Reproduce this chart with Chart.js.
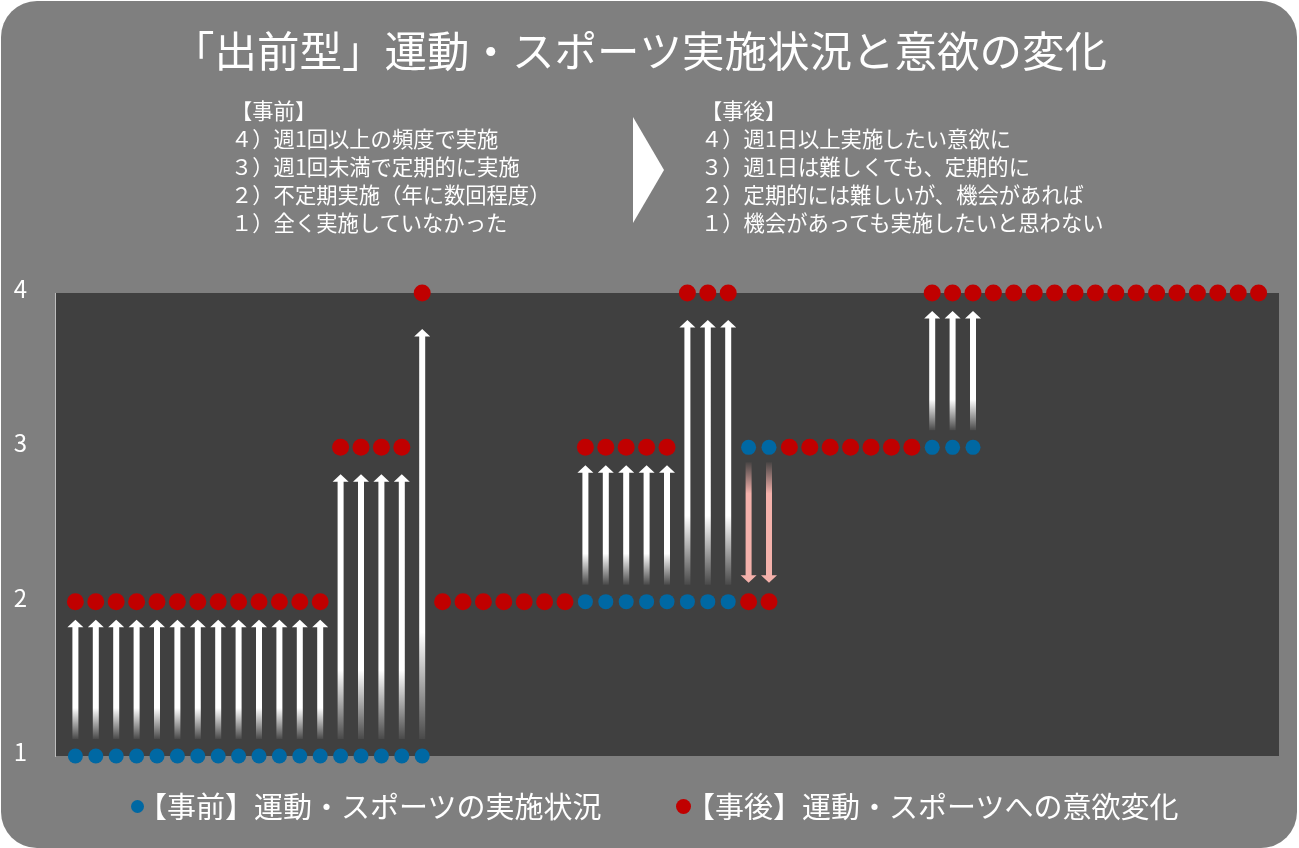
<!DOCTYPE html>
<html lang="ja">
<head>
<meta charset="utf-8">
<title>「出前型」運動・スポーツ実施状況と意欲の変化</title>
<script src="https://cdn.jsdelivr.net/npm/chart.js"></script>
<style>
  html, body { margin: 0; padding: 0; background: #fff; }
  #wrap { position: relative; width: 1299px; height: 848px; overflow: hidden;
          font-family: "Noto Sans CJK JP", "Noto Sans", sans-serif; color: #fff; }
  #bg { position: absolute; left: 1px; top: 1px; width: 1296px; height: 847px;
        background: #7f7f7f; border-radius: 36px; }
  #chart { position: absolute; left: 0; top: 0; }
  .notes { position: absolute; top: 96px; font-size: 21.3px; line-height: 28px; white-space: pre; }
  #pre { left: 231px; }
  #post { left: 701px; }
  #chevron { position: absolute; left: 633px; top: 117px; width: 31px; height: 106px;
             background: #fff; clip-path: polygon(0 0, 100% 50%, 0 100%); }
  #legend .dot { position: absolute; border-radius: 50%; }
  #legend .txt { position: absolute; font-size: 29px; line-height: 29px; top: 791px; white-space: pre; }
</style>
</head>
<body>
<div id="wrap">
  <div id="bg"></div>
  <canvas id="chart" width="1299" height="848"></canvas>
  <div class="notes" id="pre"></div>
  <div id="chevron"></div>
  <div class="notes" id="post"></div>
  <div id="legend"></div>
</div>
<script>
const FONT = '"Noto Sans CJK JP", "Noto Sans", sans-serif';

// participant numbers (x) and level before / after (1-4)
const participants = Array.from({ length: 59 }, (_, i) => i + 1);
const before = [
  1, 1, 1, 1, 1, 1, 1, 1, 1, 1, 1, 1, 1, 1, 1, 1, 1, 1,
  2, 2, 2, 2, 2, 2, 2,
  2, 2, 2, 2, 2, 2, 2, 2,
  3, 3,
  3, 3, 3, 3, 3, 3, 3,
  3, 3, 3,
  4, 4, 4, 4, 4, 4, 4, 4, 4, 4, 4, 4, 4, 4
];
const after = [
  2, 2, 2, 2, 2, 2, 2, 2, 2, 2, 2, 2, 2, 3, 3, 3, 3, 4,
  2, 2, 2, 2, 2, 2, 2,
  3, 3, 3, 3, 3, 4, 4, 4,
  2, 2,
  3, 3, 3, 3, 3, 3, 3,
  4, 4, 4,
  4, 4, 4, 4, 4, 4, 4, 4, 4, 4, 4, 4, 4, 4
];
const levels = [1, 2, 3, 4];
const seriesNames = ['【事前】運動・スポーツの実施状況', '【事後】運動・スポーツへの意欲変化'];
const titleText = '「出前型」運動・スポーツ実施状況と意欲の変化';
const preNotes = ['【事前】', '４）週1回以上の頻度で実施', '３）週1回未満で定期的に実施', '２）不定期実施（年に数回程度）', '１）全く実施していなかった'];
const postNotes = ['【事後】', '４）週1日以上実施したい意欲に', '３）週1日は難しくても、定期的に', '２）定期的には難しいが、機会があれば', '１）機会があっても実施したいと思わない'];

document.getElementById('pre').textContent = preNotes.join('\n');
document.getElementById('post').textContent = postNotes.join('\n');

Chart.defaults.font.family = FONT;

// dark plot area
const plotBg = {
  id: 'plotBg',
  beforeDraw(chart) {
    const { ctx, chartArea: a } = chart;
    ctx.save();
    ctx.fillStyle = '#404040';
    ctx.fillRect(a.left, a.top, a.right - a.left, a.bottom - a.top);
    ctx.restore();
  }
};

// arrows from the before level to the after level
const arrows = {
  id: 'arrows',
  beforeDatasetsDraw(chart) {
    const { ctx, scales: { x, y } } = chart;
    ctx.save();
    before.forEach((b, i) => {
      const a = after[i];
      if (a === b) return;
      const up = a > b;
      const diff = Math.abs(a - b);
      const px = x.getPixelForValue(participants[i]);
      const y0 = y.getPixelForValue(b) + (up ? -17 : 15);
      const y1 = y.getPixelForValue(a) + (up ? 18 + 9 * (diff - 1) : -19);
      const rgb = up ? '255,255,255' : '244,177,171';
      const g = ctx.createLinearGradient(0, y0, 0, y1);
      g.addColorStop(0, `rgba(${rgb},0.05)`);
      g.addColorStop(0.26, `rgba(${rgb},1)`);
      g.addColorStop(1, `rgba(${rgb},1)`);
      const dir = up ? -1 : 1;
      const head = 7.5, hw = 8, sw = 3;
      const neck = y1 - dir * head;
      ctx.fillStyle = g;
      ctx.beginPath();
      ctx.moveTo(px - sw, y0);
      ctx.lineTo(px - sw, neck);
      ctx.lineTo(px - hw, neck);
      ctx.lineTo(px, y1);
      ctx.lineTo(px + hw, neck);
      ctx.lineTo(px + sw, neck);
      ctx.lineTo(px + sw, y0);
      ctx.closePath();
      ctx.fill();
    });
    ctx.restore();
  }
};

const chart = new Chart(document.getElementById('chart'), {
  type: 'scatter',
  data: {
    datasets: [
      {
        label: seriesNames[0],
        data: participants.map((p, i) => ({ x: p, y: before[i] })),
        pointRadius: 7.5,
        pointBorderWidth: 0,
        pointBackgroundColor: '#0068a3',
        order: 2,
        clip: false
      },
      {
        label: seriesNames[1],
        data: participants.map((p, i) => ({ x: p, y: after[i] })),
        pointRadius: 8.5,
        pointBorderWidth: 0,
        pointBackgroundColor: '#c00000',
        order: 1,
        clip: false
      }
    ]
  },
  options: {
    responsive: false,
    animation: false,
    events: [],
    layout: { padding: { left: 0, right: 20, top: 0, bottom: 92 } },
    scales: {
      x: { type: 'linear', min: 0, max: participants.length + 1, display: false },
      y: {
        min: levels[0],
        max: levels[levels.length - 1],
        afterBuildTicks: (s) => { s.ticks = levels.map((v) => ({ value: v })); },
        afterFit: (s) => { s.width = 55; },
        grid: { display: false, drawTicks: false },
        border: { display: true, color: '#bdbdbd', width: 1 },
        ticks: { color: '#fff', font: { size: 24 }, padding: 28, labelOffset: -4 }
      }
    },
    plugins: {
      legend: { display: false },
      tooltip: { enabled: false },
      title: {
        display: true,
        text: titleText,
        color: '#fff',
        font: { size: 42.5, weight: 'normal' },
        padding: { top: 25, bottom: 217 }
      }
    }
  },
  plugins: [plotBg, arrows]
});

// legend built from the datasets
const legendX = [137, 683];
const legendEl = document.getElementById('legend');
chart.data.datasets.forEach((ds, i) => {
  const r = ds.pointRadius - 1;
  const dot = document.createElement('span');
  dot.className = 'dot';
  dot.style.background = ds.pointBackgroundColor;
  dot.style.width = dot.style.height = (2 * r) + 'px';
  dot.style.left = (legendX[i] - r) + 'px';
  dot.style.top = (806 - r) + 'px';
  const txt = document.createElement('span');
  txt.className = 'txt';
  txt.textContent = ds.label;
  txt.style.left = (legendX[i] + 1 + 2 * i) + 'px';
  legendEl.appendChild(dot);
  legendEl.appendChild(txt);
});
</script>
</body>
</html>
